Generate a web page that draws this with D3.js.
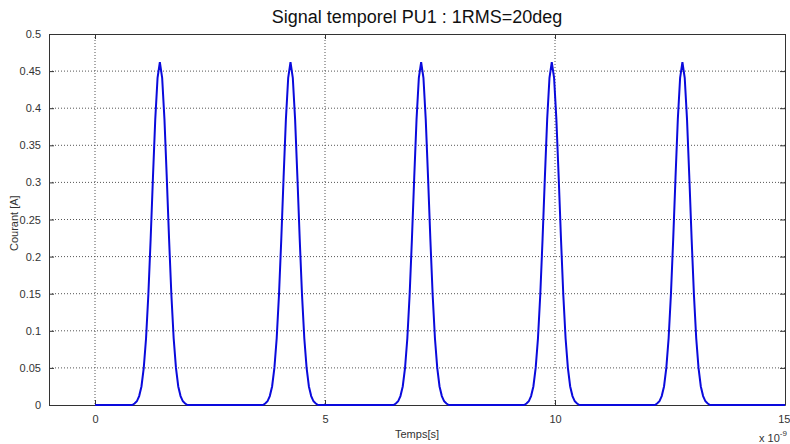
<!DOCTYPE html>
<meta charset="utf-8">
<body style="margin:0;background:#fff">
<style>
    text { font-family: "Liberation Sans", Arial, sans-serif; }
    .grid line { stroke: #555; stroke-width: 1px; stroke-dasharray: 1,2; }
    .signal { fill: none; stroke: #0a0adc; stroke-width: 2px; }
</style>
<script src="https://d3js.org/d3.v7.min.js"></script>
<script>
// chart data (time in units of 1e-9 s)
var title = "Signal temporel PU1 : 1RMS=20deg";
var xTicks = [0, 5, 10, 15];
var yTicks = [0, 0.05, 0.1, 0.15, 0.2, 0.25, 0.3, 0.35, 0.4, 0.45, 0.5];
var tStart = 0, tEnd = 15;
// peak centres
var peakCentres = [1.41, 4.25, 7.09, 9.93, 12.77];
// pulse shape: offset from centre, current [A]
var pulseOffsets = [-0.6, -0.55, -0.5, -0.45, -0.4, -0.35, -0.3, -0.25, -0.2, -0.15, -0.1, -0.05, 0,
                    0.05, 0.1, 0.15, 0.2, 0.25, 0.3, 0.35, 0.4, 0.45, 0.5, 0.55, 0.6];
var pulseValues  = [0, 0.002, 0.005, 0.012, 0.025, 0.05, 0.09, 0.149, 0.224, 0.307, 0.385, 0.441, 0.462,
                    0.441, 0.385, 0.307, 0.224, 0.149, 0.09, 0.05, 0.025, 0.012, 0.005, 0.002, 0];

var margin = {top: 34, right: 5, bottom: 39, left: 49},
    W = 790, H = 444,
    width = W - margin.left - margin.right,
    height = H - margin.top - margin.bottom;

var x = d3.scaleLinear().domain([-1, 15]).range([0, width]);
var y = d3.scaleLinear().domain([0, 0.5]).range([height, 0]);

var svg = d3.select("body").append("svg")
    .attr("width", W).attr("height", H)
    .append("g")
    .attr("transform", "translate(" + margin.left + "," + margin.top + ")");

// build the series: baseline between pulses, pulse shape at each centre
var data = [{t: tStart, v: 0}];
peakCentres.forEach(function(c) {
    pulseOffsets.forEach(function(o, i) { data.push({t: c + o, v: pulseValues[i]}); });
});
data.push({t: tEnd, v: 0});

// grid
svg.append("g").attr("class", "grid")
    .selectAll("line").data(xTicks.filter(function(d) { return d > -1 && d < 15; }))
    .enter().append("line")
    .attr("x1", function(d) { return x(d); }).attr("x2", function(d) { return x(d); })
    .attr("y1", 0).attr("y2", height);
svg.append("g").attr("class", "grid")
    .selectAll("line").data(yTicks.filter(function(d) { return d > 0 && d < 0.5; }))
    .enter().append("line")
    .attr("x1", 0).attr("x2", width)
    .attr("y1", function(d) { return y(d); }).attr("y2", function(d) { return y(d); });

// axes with inward ticks, MATLAB style box
var axStyle = function(g) {
    g.select(".domain").attr("stroke", "#333");
    g.selectAll(".tick line").attr("stroke", "#333");
};
var xAxis = svg.append("g")
    .attr("transform", "translate(0," + height + ")")
    .call(d3.axisBottom(x).tickValues(xTicks).tickSizeInner(-5).tickSizeOuter(0).tickPadding(10).tickFormat(d3.format("d")))
    .call(axStyle);
// last label sits against the right edge
xAxis.selectAll(".tick text").filter(function(d) { return d === 15; })
    .attr("text-anchor", "end").attr("dx", 5);
svg.append("g")
    .call(d3.axisTop(x).tickValues(xTicks).tickSizeInner(-5).tickSizeOuter(0).tickFormat(""))
    .call(axStyle);
svg.append("g")
    .call(d3.axisLeft(y).tickValues(yTicks).tickSizeInner(-5).tickSizeOuter(0).tickPadding(8).tickFormat(function(d) { return String(d); }))
    .call(axStyle);
svg.append("g")
    .attr("transform", "translate(" + width + ",0)")
    .call(d3.axisRight(y).tickValues(yTicks).tickSizeInner(-5).tickSizeOuter(0).tickFormat(""))
    .call(axStyle);
svg.selectAll(".tick text").attr("font-size", 11).attr("fill", "#333").attr("font-family", "Liberation Sans, Arial, sans-serif");

// the signal
svg.append("path")
    .datum(data)
    .attr("class", "signal")
    .attr("d", d3.line().x(function(d) { return x(d.t); }).y(function(d) { return y(d.v); }));

// labels
svg.append("text")
    .attr("x", width / 2).attr("y", -11)
    .attr("text-anchor", "middle")
    .attr("font-size", 18).attr("fill", "#111")
    .text(title);
svg.append("text")
    .attr("x", width / 2).attr("y", height + 33)
    .attr("text-anchor", "middle")
    .attr("font-size", 11).attr("fill", "#333")
    .text("Temps[s]");
svg.append("text")
    .attr("transform", "translate(-31," + (y(0.245)) + ") rotate(-90)")
    .attr("text-anchor", "middle")
    .attr("font-size", 11).attr("fill", "#333")
    .text("Courant [A]");
var mult = svg.append("text")
    .attr("x", width - 26).attr("y", height + 37)
    .attr("font-size", 11).attr("fill", "#333");
mult.append("tspan").text("x 10");
mult.append("tspan").attr("dy", -6).attr("font-size", 8).text("-9");
</script>
</body>
